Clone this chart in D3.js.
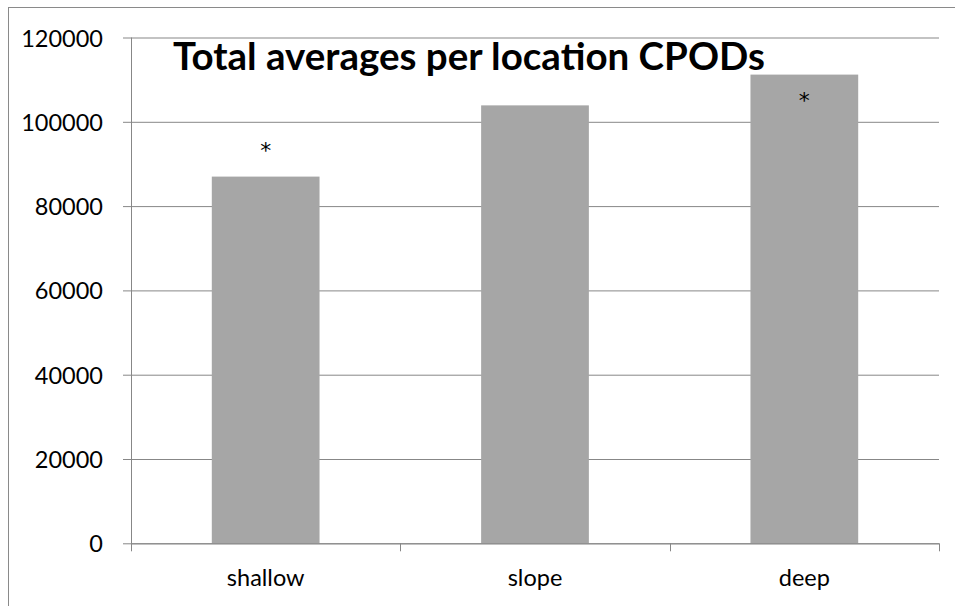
<!DOCTYPE html>
<html>
<head>
<meta charset="utf-8">
<script src="https://cdn.jsdelivr.net/npm/d3@7"></script>
<style>
  html, body { margin: 0; padding: 0; background: #fff; }
  svg { display: block; font-family: Lato, "Open Sans", sans-serif; }
</style>
</head>
<body>
<svg id="chart" width="955" height="606"></svg>
<script>
// ---- data ----
const categories = ["shallow", "slope", "deep"];
const values = [87000, 103900, 111200];
const yTicks = [0, 20000, 40000, 60000, 80000, 100000, 120000];
const markerCategories = ["shallow", "deep"];
const markerValues = [91300, 103200];   // y-position (data units) of the "*" marks
const titleText = "Total averages per location CPODs";

// ---- layout ----
const W = 955, H = 606;
const plot = { left: 131, right: 939, top: 37.5, bottom: 543.3 };
const gridColor = "#878787";
const barColor = "#a6a6a6";
const labelSize = "23.5px";

const svg = d3.select("#chart");

// outer chart border (extends past right/bottom of the picture)
svg.append("rect")
  .attr("x", 8.5).attr("y", 7.5)
  .attr("width", 1000).attr("height", 700)
  .attr("fill", "none").attr("stroke", "#8a8a8a").attr("stroke-width", 1);

const x = d3.scaleBand()
  .domain(categories)
  .range([plot.left, plot.right])
  .paddingInner(0.6)
  .paddingOuter(0.3);

const y = d3.scaleLinear()
  .domain([0, 120000])
  .range([plot.bottom, plot.top]);

// gridlines + y ticks
const yAxis = d3.axisLeft(y)
  .tickValues(yTicks)
  .tickSize(plot.right - plot.left + 8)
  .tickFormat(d3.format("d"));

const gy = svg.append("g")
  .attr("transform", `translate(${plot.right},0)`)
  .call(yAxis);
gy.select(".domain").remove();
gy.selectAll(".tick line").attr("stroke", gridColor).attr("stroke-width", 1);
gy.selectAll(".tick text")
  .attr("fill", "#000")
  .style("font-size", labelSize)
  .style("font-family", "Lato, sans-serif")
  .attr("dy", null)
  .attr("y", 8.5)
  .attr("x", 103 - plot.right);

// y axis line
svg.append("line")
  .attr("x1", plot.left + 0.5).attr("x2", plot.left + 0.5)
  .attr("y1", plot.top).attr("y2", plot.bottom)
  .attr("stroke", gridColor);

// bars
svg.append("g").selectAll("rect")
  .data(categories.map((c, i) => ({ c, v: values[i] })))
  .join("rect")
  .attr("x", d => x(d.c))
  .attr("width", x.bandwidth())
  .attr("y", d => y(d.v))
  .attr("height", d => y(0) - y(d.v))
  .attr("fill", barColor);

// x axis
const xAxis = d3.axisBottom(x).tickSize(0).tickPadding(0);
const gx = svg.append("g")
  .attr("transform", `translate(0,${plot.bottom})`)
  .call(xAxis);
gx.select(".domain").remove();
gx.selectAll(".tick text")
  .attr("fill", "#000")
  .style("font-size", labelSize)
  .style("font-family", "Lato, sans-serif")
  .attr("dy", null)
  .attr("y", 586 - plot.bottom);

// x axis baseline and boundary ticks
svg.append("line")
  .attr("x1", plot.left).attr("x2", plot.right)
  .attr("y1", plot.bottom + 0.5).attr("y2", plot.bottom + 0.5)
  .attr("stroke", gridColor);
const step = x.step();
const boundaries = d3.range(categories.length + 1).map(i => plot.left + i * step);
svg.append("g").selectAll("line")
  .data(boundaries)
  .join("line")
  .attr("x1", d => Math.round(d) + 0.5).attr("x2", d => Math.round(d) + 0.5)
  .attr("y1", plot.bottom).attr("y2", plot.bottom + 8)
  .attr("stroke", gridColor);

// significance markers
svg.append("g").selectAll("text")
  .data(markerCategories.map((c, i) => ({ c, v: markerValues[i] })))
  .join("text")
  .attr("x", d => x(d.c) + x.bandwidth() / 2)
  .attr("y", d => y(d.v))
  .attr("text-anchor", "middle")
  .style("font-size", "22px")
  .style("font-family", "'DejaVu Sans', sans-serif")
  .attr("fill", "#000")
  .text("*");

// title
const title = svg.append("text")
  .attr("x", 173)
  .attr("y", 70)
  .style("font-family", "Lato, sans-serif")
  .style("font-weight", "bold")
  .style("font-size", "33px")
  .attr("fill", "#000")
  .text(titleText);
const tw = title.node().getComputedTextLength();
title.style("font-size", (33 * 592 / tw).toFixed(2) + "px");
</script>
</body>
</html>
